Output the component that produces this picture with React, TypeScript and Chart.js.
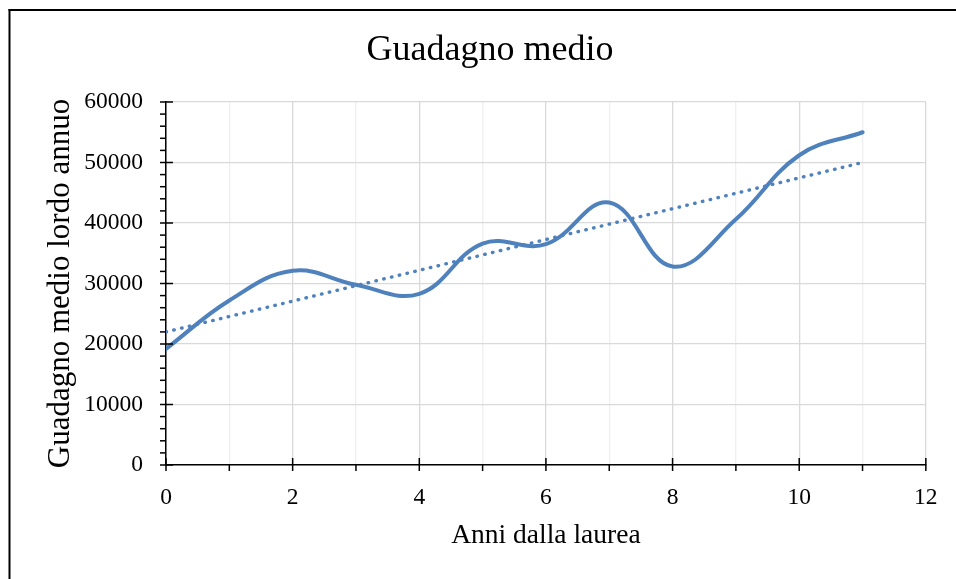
import React, { useEffect, useRef } from 'react';
import { Chart, registerables } from 'chart.js';

Chart.register(...registerables);

// ---- data ----
const YEARS = [0, 1, 2, 3, 4, 5, 6, 7, 8, 9, 10, 11];
const EARNINGS = [19200, 27200, 32100, 29800, 28300, 36600, 36500, 43400, 32800, 40600, 51200, 55000];
const TREND_YEARS = [0, 11];
const TREND_VALUES = [22000, 50000];

const X_MIN = 0;
const X_MAX = 12;
const X_STEP = 1;
const X_LABEL_EVERY = 2;
const Y_MIN = 0;
const Y_MAX = 60000;
const Y_STEP = 10000;
const Y_MINOR_STEP = 2000;

const TITLE = 'Guadagno medio';
const X_TITLE = 'Anni dalla laurea';
const Y_TITLE = 'Guadagno medio lordo annuo';

const FONT = "'Liberation Serif', 'Times New Roman', serif";
const BLUE = '#4f81bd';

const excelAxesPlugin = {
  id: 'excelAxes',
  afterDraw(chart: any) {
    const { ctx, chartArea, scales } = chart;
    const xs = scales.x;
    const ys = scales.y;
    ctx.save();
    ctx.strokeStyle = '#000';
    ctx.lineWidth = 1.5;
    const ax = chartArea.left;
    const ay = chartArea.bottom;
    // y ticks
    for (let v = Y_MIN; v <= Y_MAX; v += Y_MINOR_STEP) {
      const py = ys.getPixelForValue(v);
      const major = v % Y_STEP === 0;
      ctx.beginPath();
      ctx.moveTo(ax - 6, py);
      ctx.lineTo(major ? ax + 7 : ax, py);
      ctx.stroke();
    }
    // x ticks
    for (let v = X_MIN; v <= X_MAX; v += X_STEP) {
      const px = xs.getPixelForValue(v);
      const major = v % X_LABEL_EVERY === 0;
      ctx.beginPath();
      ctx.moveTo(px, major ? ay - 7 : ay);
      ctx.lineTo(px, ay + 6);
      ctx.stroke();
    }
    // outer chart border (left and top visible)
    ctx.fillStyle = '#000';
    ctx.fillRect(8.5, 9, 2, chart.height - 9);
    ctx.fillRect(8.5, 9, chart.width - 8.5, 2);
    ctx.restore();
  },
};

export default function App() {
  const ref = useRef<HTMLCanvasElement>(null);

  useEffect(() => {
    const chart = new Chart(ref.current as HTMLCanvasElement, {
      type: 'line',
      data: {
        datasets: [
          {
            label: 'Tendenza',
            data: TREND_YEARS.map((x, i) => ({ x, y: TREND_VALUES[i] })),
            borderColor: BLUE,
            borderWidth: 3.4,
            borderDash: [0.5, 7.5],
            borderCapStyle: 'round',
            pointRadius: 0,
            tension: 0,
            fill: false,
          },
          {
            label: 'Guadagno medio',
            data: YEARS.map((x, i) => ({ x, y: EARNINGS[i] })),
            borderColor: BLUE,
            borderWidth: 4,
            borderCapStyle: 'round',
            borderJoinStyle: 'round',
            pointRadius: 0,
            tension: 0.4,
            fill: false,
          },
        ],
      },
      options: {
        responsive: false,
        animation: false,
        devicePixelRatio: 1,
        layout: { padding: { left: 52, right: 28, top: 0, bottom: 0 } },
        plugins: {
          legend: { display: false },
          tooltip: { enabled: false },
          title: {
            display: true,
            text: TITLE,
            color: '#000',
            font: { family: FONT, size: 36, weight: 'normal' },
            padding: { top: 29, bottom: 29.8 },
          },
        },
        scales: {
          x: {
            type: 'linear',
            min: X_MIN,
            max: X_MAX,
            afterFit: (s: any) => {
              s.height = 114;
            },
            ticks: {
              stepSize: X_STEP,
              autoSkip: false,
              maxRotation: 0,
              padding: 18.4,
              color: '#000',
              font: { family: FONT, size: 23.5 },
              callback: (v: any) => (Number(v) % X_LABEL_EVERY === 0 ? String(v) : ''),
            },
            grid: {
              color: (c: any) => (c.tick && c.tick.value % X_LABEL_EVERY !== 0 ? '#efefef' : '#d9d9d9'),
              lineWidth: 1.3,
              drawTicks: false,
            },
            border: { display: true, color: '#000', width: 1.5 },
            title: {
              display: true,
              text: X_TITLE,
              color: '#000',
              font: { family: FONT, size: 27.5 },
              padding: { top: 0, bottom: 26.8 },
            },
          },
          y: {
            min: Y_MIN,
            max: Y_MAX,
            afterFit: (s: any) => {
              s.width = 114;
            },
            ticks: {
              stepSize: Y_STEP,
              padding: 23,
              color: '#000',
              font: { family: FONT, size: 23.5 },
              callback: (v: any) => String(v),
            },
            grid: { color: '#d9d9d9', lineWidth: 1.3, drawTicks: false },
            border: { display: true, color: '#000', width: 1.5 },
            title: {
              display: true,
              text: Y_TITLE,
              color: '#000',
              font: { family: FONT, size: 31 },
              padding: { top: -9.6, bottom: 0 },
            },
          },
        },
      },
      plugins: [excelAxesPlugin],
    } as any);
    return () => chart.destroy();
  }, []);

  return (
    <div style={{ position: 'fixed', left: 0, top: 0, width: 956, height: 579, background: '#fff' }}>
      <canvas ref={ref} width={956} height={579} style={{ display: 'block' }} />
    </div>
  );
}
